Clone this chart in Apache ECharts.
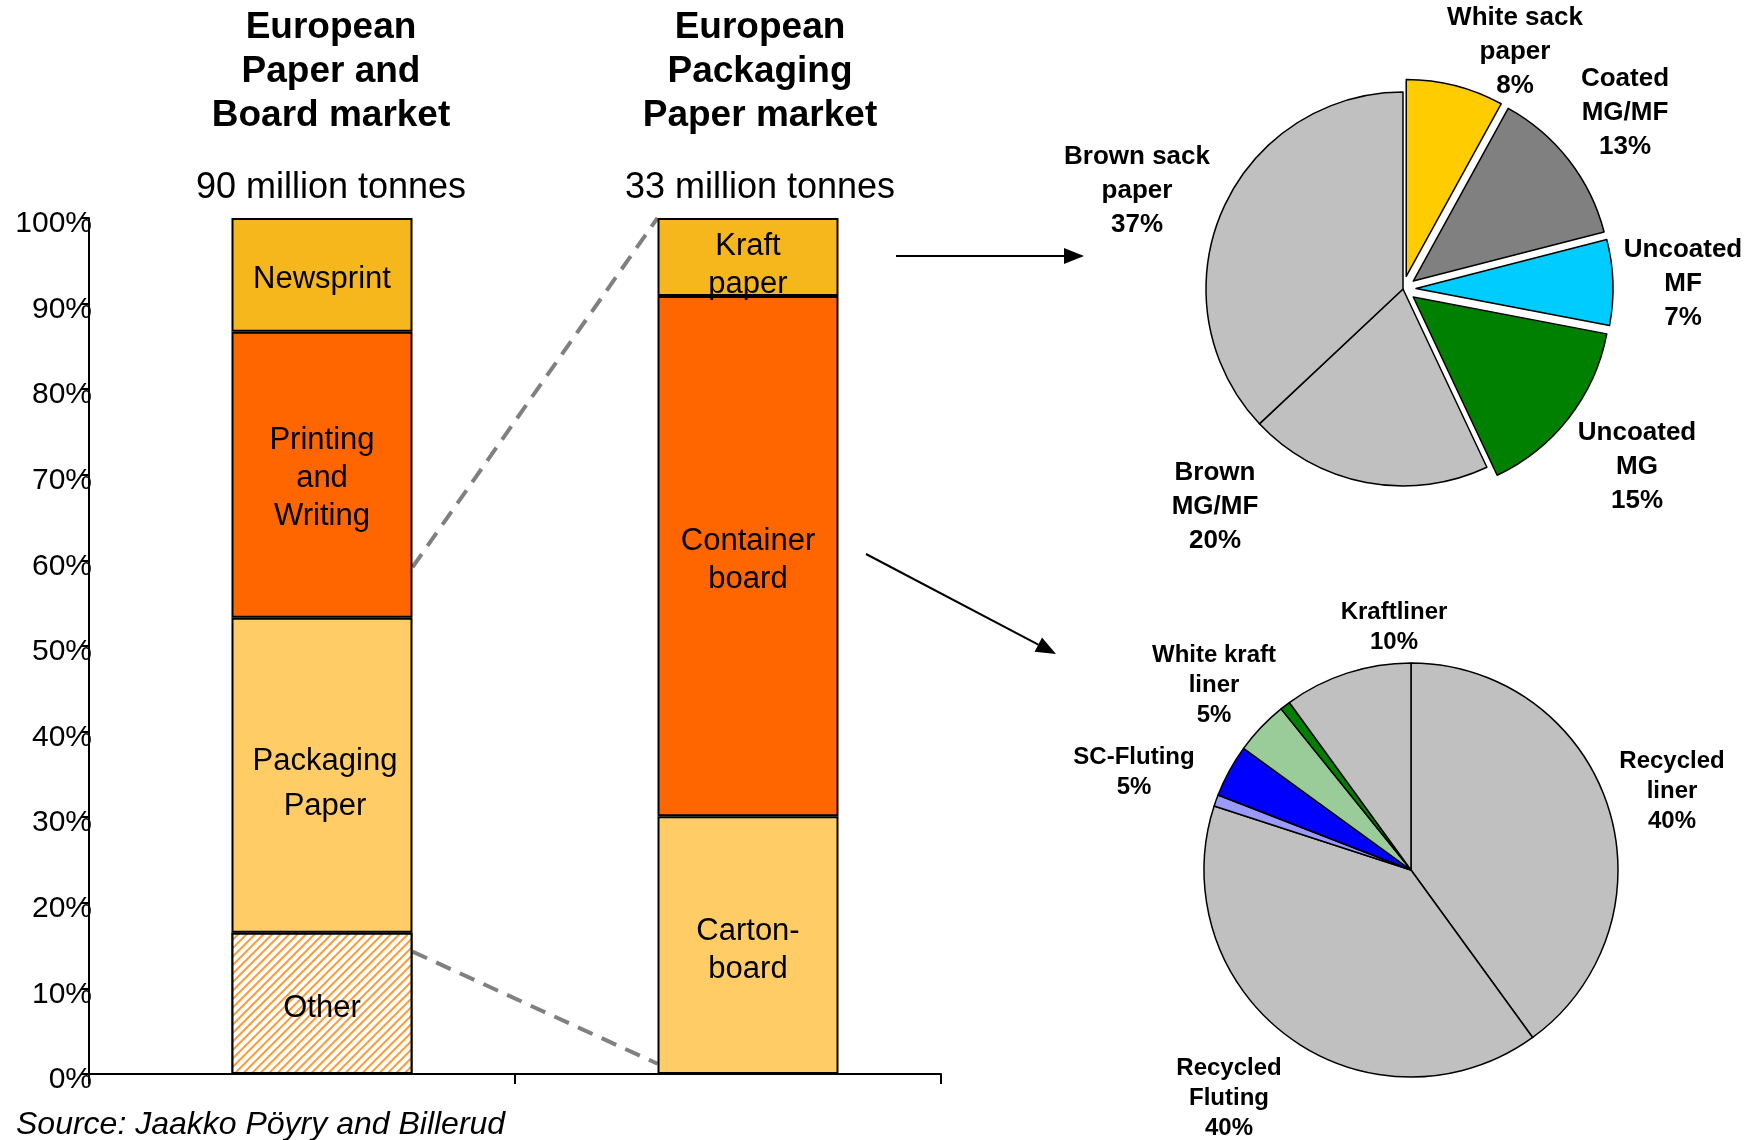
<!DOCTYPE html>
<html>
<head>
<meta charset="utf-8">
<script src="https://cdn.jsdelivr.net/npm/echarts@6/dist/echarts.min.js"></script>
<style>
  html, body { margin: 0; padding: 0; background: #ffffff; }
  #chart { width: 1760px; height: 1140px; }
</style>
</head>
<body>
<div id="chart"></div>
<script>
// ---- Data (shares in % of tonnage) ----
const marketTitles = ['European\nPaper and\nBoard market', 'European\nPackaging\nPaper market'];
const marketTonnes = [90, 33];

const boardSegments = ['Other', 'Packaging\nPaper', 'Printing\nand\nWriting', 'Newsprint'];
const boardShares = [16.5, 36.8, 33.4, 13.3];

const packagingSegments = ['Carton-\nboard', 'Container\nboard', 'Kraft\npaper'];
const packagingShares = [30.1, 60.8, 9.1];

// Zoom connector levels: from the first bar (%) to the second bar (%)
const connectorFrom = [59.2, 14.3];
const connectorTo = [100, 1.2];

const sackPaperTypes = ['White sack\npaper', 'Coated\nMG/MF', 'Uncoated\nMF', 'Uncoated\nMG', 'Brown\nMG/MF', 'Brown sack\npaper'];
const sackPaperShares = [8, 13, 7, 15, 20, 37];
const sackPaperExploded = [true, true, true, true, false, false];

const containerboardTypes = ['Recycled\nliner', 'Recycled\nFluting', 'SC-Fluting', 'White kraft\nliner', 'Kraftliner'];
const containerboardShares = [40, 40, 5, 5, 10];
const scFlutingParts = [0.9, 4.1];
const whiteKraftParts = [4.2, 0.8];

// ---- Styling ----
const FONT = '"Liberation Sans", Arial, Helvetica, sans-serif';
const BAR_WIDTH = 181;
const boardColors = ['#FFFFFF', '#FFCC66', '#FF6600', '#F5B71B'];
const packagingColors = ['#FFCC66', '#FF6600', '#F5B71B'];
const sackColors = ['#FFCC00', '#808080', '#00CCFF', '#008000', '#C0C0C0', '#C0C0C0'];
const boardLabelOffsets = [[0, 5], [3, 9], [0, 4], [0, 5]];
const packagingLabelOffsets = [[0, 5], [0, 4], [0, 9]];

const SACK_CENTER = [1403, 289];
const SACK_RADIUS = 197;
const CB_CENTER = [1411, 870];
const CB_RADIUS = 207;

// label block centres, relative to each pie centre
const sackLabelOffsets = [[112, -237], [222, -176], [280, -5], [234, 178], [-188, 218], [-266, -98]];
const cbLabelOffsets = { 0: [261, -79], 1: [-182, 228], 3: [-277, -98], 4: [-197, -185], 6: [-17, -243] };

// diagonal orange hatching for the "Other" segment
const otherDecal = {
  symbol: 'rect',
  symbolSize: 1,
  color: '#FF9933',
  backgroundColor: '#FFFFFF',
  dashArrayX: [1, 0],
  dashArrayY: [2, 4],
  rotation: -Math.PI / 4
};

const barLabelBase = {
  show: true,
  position: 'inside',
  color: '#000000',
  fontFamily: FONT,
  fontSize: 31,
  lineHeight: 38,
  align: 'center'
};

// ---- Bar series (one per segment, stacked) ----
const barSeries = [];
boardSegments.forEach((name, i) => {
  const itemStyle = { color: boardColors[i], borderColor: '#000000', borderWidth: 2 };
  if (i === 0) itemStyle.decal = otherDecal;
  const label = Object.assign({}, barLabelBase, { formatter: name, offset: boardLabelOffsets[i] });
  if (i === 1) label.lineHeight = 45;
  barSeries.push({
    type: 'bar', name: name, stack: 'share', xAxisIndex: 1, yAxisIndex: 1,
    barWidth: BAR_WIDTH, silent: true,
    data: [boardShares[i], '-'],
    itemStyle: itemStyle, label: label
  });
});
packagingSegments.forEach((name, i) => {
  barSeries.push({
    type: 'bar', name: name, stack: 'share', xAxisIndex: 1, yAxisIndex: 1,
    barWidth: BAR_WIDTH, silent: true,
    data: ['-', packagingShares[i]],
    itemStyle: { color: packagingColors[i], borderColor: '#000000', borderWidth: 2 },
    label: Object.assign({}, barLabelBase, { formatter: name, offset: packagingLabelOffsets[i] })
  });
});

// Dashed zoom connectors between the two bars
const connectorSeries = {
  type: 'custom', xAxisIndex: 1, yAxisIndex: 1, silent: true, z: 1,
  data: connectorFrom.map((f, i) => [0, f, 1, connectorTo[i]]),
  renderItem: (params, api) => {
    const a = api.coord([api.value(0), api.value(1)]);
    const b = api.coord([api.value(2), api.value(3)]);
    const half = BAR_WIDTH / 2;
    return {
      type: 'line',
      shape: { x1: a[0] + half, y1: a[1], x2: b[0] - half, y2: b[1] },
      style: { stroke: '#808080', lineWidth: 4, lineDash: [16, 10] }
    };
  }
};

// ---- Pie series ----
const cbData = [
  { name: containerboardTypes[0], value: containerboardShares[0], share: containerboardShares[0], itemStyle: { color: '#C0C0C0' } },
  { name: containerboardTypes[1], value: containerboardShares[1], share: containerboardShares[1], itemStyle: { color: '#C0C0C0' } },
  { name: containerboardTypes[2], value: scFlutingParts[0], itemStyle: { color: '#9999FF' }, label: { show: false } },
  { name: containerboardTypes[2], value: scFlutingParts[1], share: containerboardShares[2], itemStyle: { color: '#0000FF' } },
  { name: containerboardTypes[3], value: whiteKraftParts[0], share: containerboardShares[3], itemStyle: { color: '#99CC99' } },
  { name: containerboardTypes[3], value: whiteKraftParts[1], itemStyle: { color: '#008000' }, label: { show: false } },
  { name: containerboardTypes[4], value: containerboardShares[4], share: containerboardShares[4], itemStyle: { color: '#C0C0C0' } }
];

const pieLabel = (size, lh) => ({
  show: true,
  position: 'outside',
  color: '#000000',
  fontFamily: FONT,
  fontWeight: 'bold',
  fontSize: size,
  lineHeight: lh,
  align: 'center'
});

// Sack paper pie: slices (with exploded ones) ...
const sackPie = {
  type: 'pie',
  center: SACK_CENTER,
  radius: SACK_RADIUS,
  startAngle: 90,
  clockwise: true,
  selectedMode: 'multiple',
  selectedOffset: 13,
  silent: true,
  data: sackPaperTypes.map((name, i) => ({
    name: name, value: sackPaperShares[i], selected: sackPaperExploded[i],
    itemStyle: { color: sackColors[i] }
  })),
  itemStyle: { borderColor: '#000000', borderWidth: 1.5 },
  label: { show: false },
  labelLine: { show: false },
  emphasis: { disabled: true }
};

// ... and its labels, laid out on an unexploded copy of the same data
const sackLabels = {
  type: 'pie',
  center: SACK_CENTER,
  radius: SACK_RADIUS,
  startAngle: 90,
  clockwise: true,
  avoidLabelOverlap: false,
  silent: true,
  z: 3,
  data: sackPaperTypes.map((name, i) => ({ name: name, value: sackPaperShares[i] })),
  itemStyle: { color: 'rgba(0,0,0,0)', borderWidth: 0 },
  label: Object.assign(pieLabel(26, 34), { formatter: p => p.name + '\n' + p.value + '%' }),
  labelLine: { show: false },
  labelLayout: params => {
    const o = sackLabelOffsets[params.dataIndex];
    return { x: SACK_CENTER[0] + o[0], y: SACK_CENTER[1] + o[1], align: 'center', verticalAlign: 'middle' };
  },
  emphasis: { disabled: true }
};

const cbPie = {
  type: 'pie',
  center: CB_CENTER,
  radius: CB_RADIUS,
  startAngle: 90,
  clockwise: true,
  avoidLabelOverlap: false,
  silent: true,
  data: cbData,
  itemStyle: { borderColor: '#000000', borderWidth: 1.5 },
  label: Object.assign(pieLabel(24, 30), { formatter: p => p.name + '\n' + p.data.share + '%' }),
  labelLine: { show: false },
  labelLayout: params => {
    const o = cbLabelOffsets[params.dataIndex];
    if (!o) return {};
    return { x: CB_CENTER[0] + o[0], y: CB_CENTER[1] + o[1], align: 'center', verticalAlign: 'middle' };
  },
  emphasis: { disabled: true }
};

// ---- Annotations: titles, arrows, source ----
function arrow(x1, y1, x2, y2) {
  const len = Math.hypot(x2 - x1, y2 - y1);
  const ux = (x2 - x1) / len, uy = (y2 - y1) / len;
  const hl = 20, hw = 8;
  const bx = x2 - ux * hl, by = y2 - uy * hl;
  return [
    { type: 'line', shape: { x1: x1, y1: y1, x2: bx, y2: by }, style: { stroke: '#000', lineWidth: 2 } },
    { type: 'polygon', shape: { points: [[x2, y2], [bx - uy * hw, by + ux * hw], [bx + uy * hw, by - ux * hw]] }, style: { fill: '#000' } }
  ];
}

const titleX = [331, 760];
const graphics = [];
marketTitles.forEach((t, i) => {
  graphics.push({
    type: 'text', x: titleX[i], y: 72,
    style: { text: t, align: 'center', verticalAlign: 'middle', fontFamily: FONT, fontWeight: 'bold', fontSize: 37, lineHeight: 44, fill: '#000' }
  });
  graphics.push({
    type: 'text', x: titleX[i], y: 188,
    style: { text: marketTonnes[i] + ' million tonnes', align: 'center', verticalAlign: 'middle', fontFamily: FONT, fontSize: 36, fill: '#000' }
  });
});
graphics.push({
  type: 'text', x: 16, y: 1125,
  style: { text: 'Source: Jaakko Pöyry and Billerud', align: 'left', verticalAlign: 'middle', fontFamily: FONT, fontStyle: 'italic', fontSize: 32, fill: '#000' }
});
arrow(896, 256, 1084, 256).forEach(g => graphics.push(g));
arrow(866, 554, 1056, 654).forEach(g => graphics.push(g));

// ---- Chart ----
const chart = echarts.init(document.getElementById('chart'), null, { renderer: 'canvas' });
chart.setOption({
  animation: false,
  backgroundColor: '#ffffff',
  grid: [
    { left: 89, top: 218, width: 852, height: 856 },
    { left: 109, top: 218, width: 852, height: 856 }
  ],
  xAxis: [
    {
      type: 'category', gridIndex: 0, data: ['', ''],
      axisLine: { lineStyle: { color: '#000', width: 2 } },
      axisTick: { show: true, interval: 0, length: 10, lineStyle: { color: '#000', width: 2 } },
      axisLabel: { show: false }
    },
    { type: 'category', gridIndex: 1, data: ['', ''], show: false }
  ],
  yAxis: [
    {
      type: 'value', gridIndex: 0, min: 0, max: 100, interval: 10,
      axisLine: { show: true, lineStyle: { color: '#000', width: 2 } },
      axisTick: { show: true, length: 8, lineStyle: { color: '#000', width: 2 } },
      splitLine: { show: false },
      axisLabel: { formatter: '{value}%', color: '#000', fontFamily: FONT, fontSize: 30, margin: -3, verticalAlign: 'top', lineHeight: 12 }
    },
    { type: 'value', gridIndex: 1, min: 0, max: 100, show: false, splitLine: { show: false } }
  ],
  series: barSeries.concat([connectorSeries, sackPie, sackLabels, cbPie]),
  graphic: graphics
});
</script>
</body>
</html>
